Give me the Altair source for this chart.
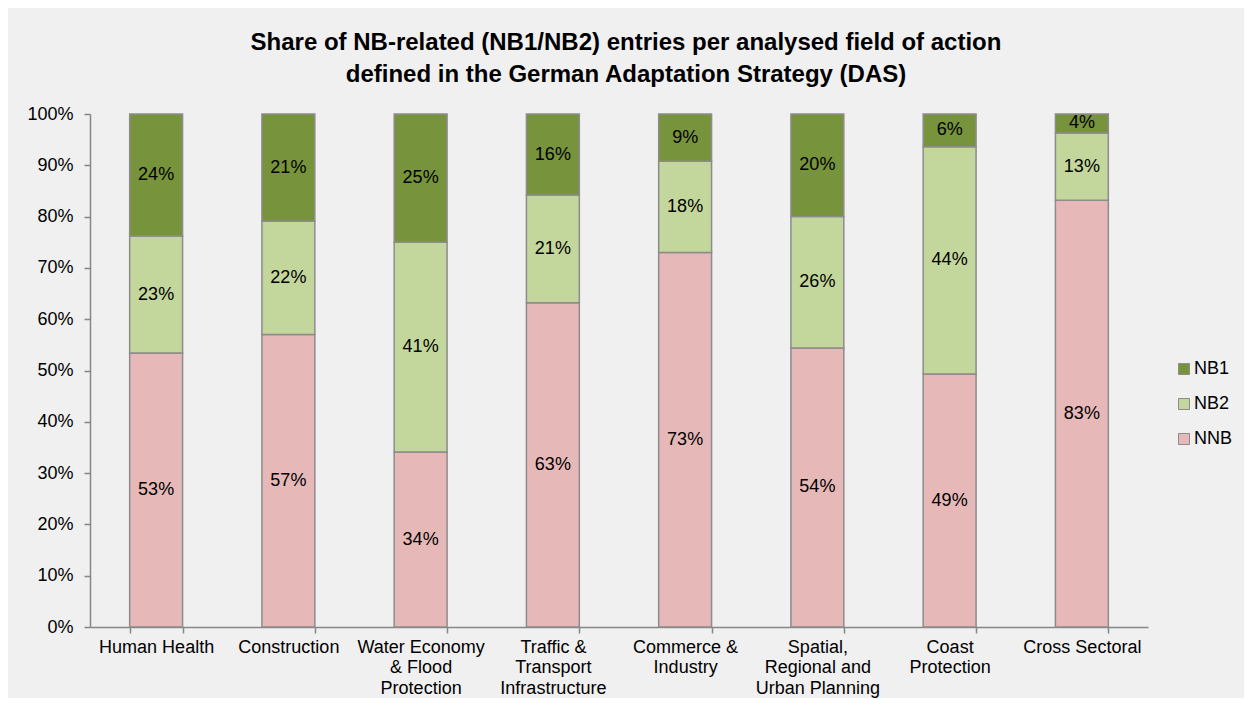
import altair as alt
import pandas as pd

categories = [
    "Human Health",
    "Construction",
    "Water Economy\n& Flood\nProtection",
    "Traffic &\nTransport\nInfrastructure",
    "Commerce &\nIndustry",
    "Spatial,\nRegional and\nUrban Planning",
    "Coast\nProtection",
    "Cross Sectoral",
]
series = ["NB1", "NB2", "NNB"]
colors = ["#77933C", "#C3D69B", "#E6B9B8"]
nnb = [0.534, 0.570, 0.341, 0.632, 0.730, 0.544, 0.493, 0.832]
nb2 = [0.228, 0.221, 0.409, 0.210, 0.178, 0.256, 0.443, 0.131]
nb1 = [0.238, 0.209, 0.250, 0.158, 0.092, 0.200, 0.064, 0.037]
stack_order = {"NNB": 0, "NB2": 1, "NB1": 2}
title_lines = [
    "Share of NB-related (NB1/NB2) entries per analysed field of action",
    "defined in the German Adaptation Strategy (DAS)",
]

rows = []
for i, c in enumerate(categories):
    for s, vals in (("NNB", nnb), ("NB2", nb2), ("NB1", nb1)):
        rows.append({"category": c, "series": s, "share": vals[i], "order": stack_order[s]})
df = pd.DataFrame(rows)

FONT = "Liberation Sans"
GREY = "#868686"

x_enc = alt.X(
    "category:N",
    sort=categories,
    scale=alt.Scale(paddingInner=0.6, paddingOuter=0.3),
    axis=alt.Axis(
        title=None,
        labelAngle=0,
        labelExpr="split(datum.label, '\\n')",
        labelFontSize=18,
        labelLineHeight=20.5,
        labelColor="black",
        labelPadding=5,
        labelBaseline="top",
        tickBand="extent",
        tickSize=6,
        tickColor=GREY,
        domainColor=GREY,
        domainWidth=1.5,
        tickWidth=1.5,
        grid=False,
    ),
)

base = alt.Chart(df).transform_stack(
    stack="share",
    groupby=["category"],
    sort=[alt.SortField("order", order="ascending")],
    as_=["y0", "y1"],
).transform_calculate(mid="(datum.y0 + datum.y1) / 2")

bars = base.mark_bar(stroke="#8C8C8C", strokeWidth=1.5).encode(
    x=x_enc,
    y=alt.Y(
        "y0:Q",
        scale=alt.Scale(domain=[0, 1], nice=False),
        axis=alt.Axis(
            title=None,
            values=[i / 10 for i in range(11)],
            format=".0%",
            labelFontSize=18,
            labelColor="black",
            labelPadding=11,
            tickSize=6,
            tickColor=GREY,
            domainColor=GREY,
            domainWidth=1.5,
            tickWidth=1.5,
            grid=False,
        ),
    ),
    y2="y1:Q",
    color=alt.Color(
        "series:N",
        scale=alt.Scale(domain=series, range=colors),
        legend=alt.Legend(
            title=None,
            orient="none",
            legendX=1085,
            legendY=246,
            symbolType="square",
            symbolSize=121,
            symbolStrokeColor="#8C8C8C",
            symbolStrokeWidth=1,
            labelFontSize=18,
            labelColor="black",
            labelOffset=1,
            rowPadding=17,
            padding=0,
        ),
    ),
)

labels = base.mark_text(fontSize=18, color="black", baseline="middle", align="center").encode(
    x=x_enc,
    y=alt.Y("mid:Q"),
    text=alt.Text("share:Q", format=".0%"),
)

chart = (
    alt.layer(bars, labels)
    .properties(
        width=1058,
        height=513,
        background="#F0F0F0",
        autosize=alt.AutoSizeParams(type="none"),
        padding={"left": 82, "top": 106, "right": 96, "bottom": 71},
        title=alt.TitleParams(
            text=title_lines,
            font=FONT,
            fontSize=24,
            fontWeight="bold",
            color="black",
            anchor="middle",
            lineHeight=32,
            offset=18,
            dx=7,
        ),
    )
    .configure(font=FONT)
    .configure_view(stroke=None)
)

chart.save("out.html", embed_options={"renderer": "svg", "actions": False})
